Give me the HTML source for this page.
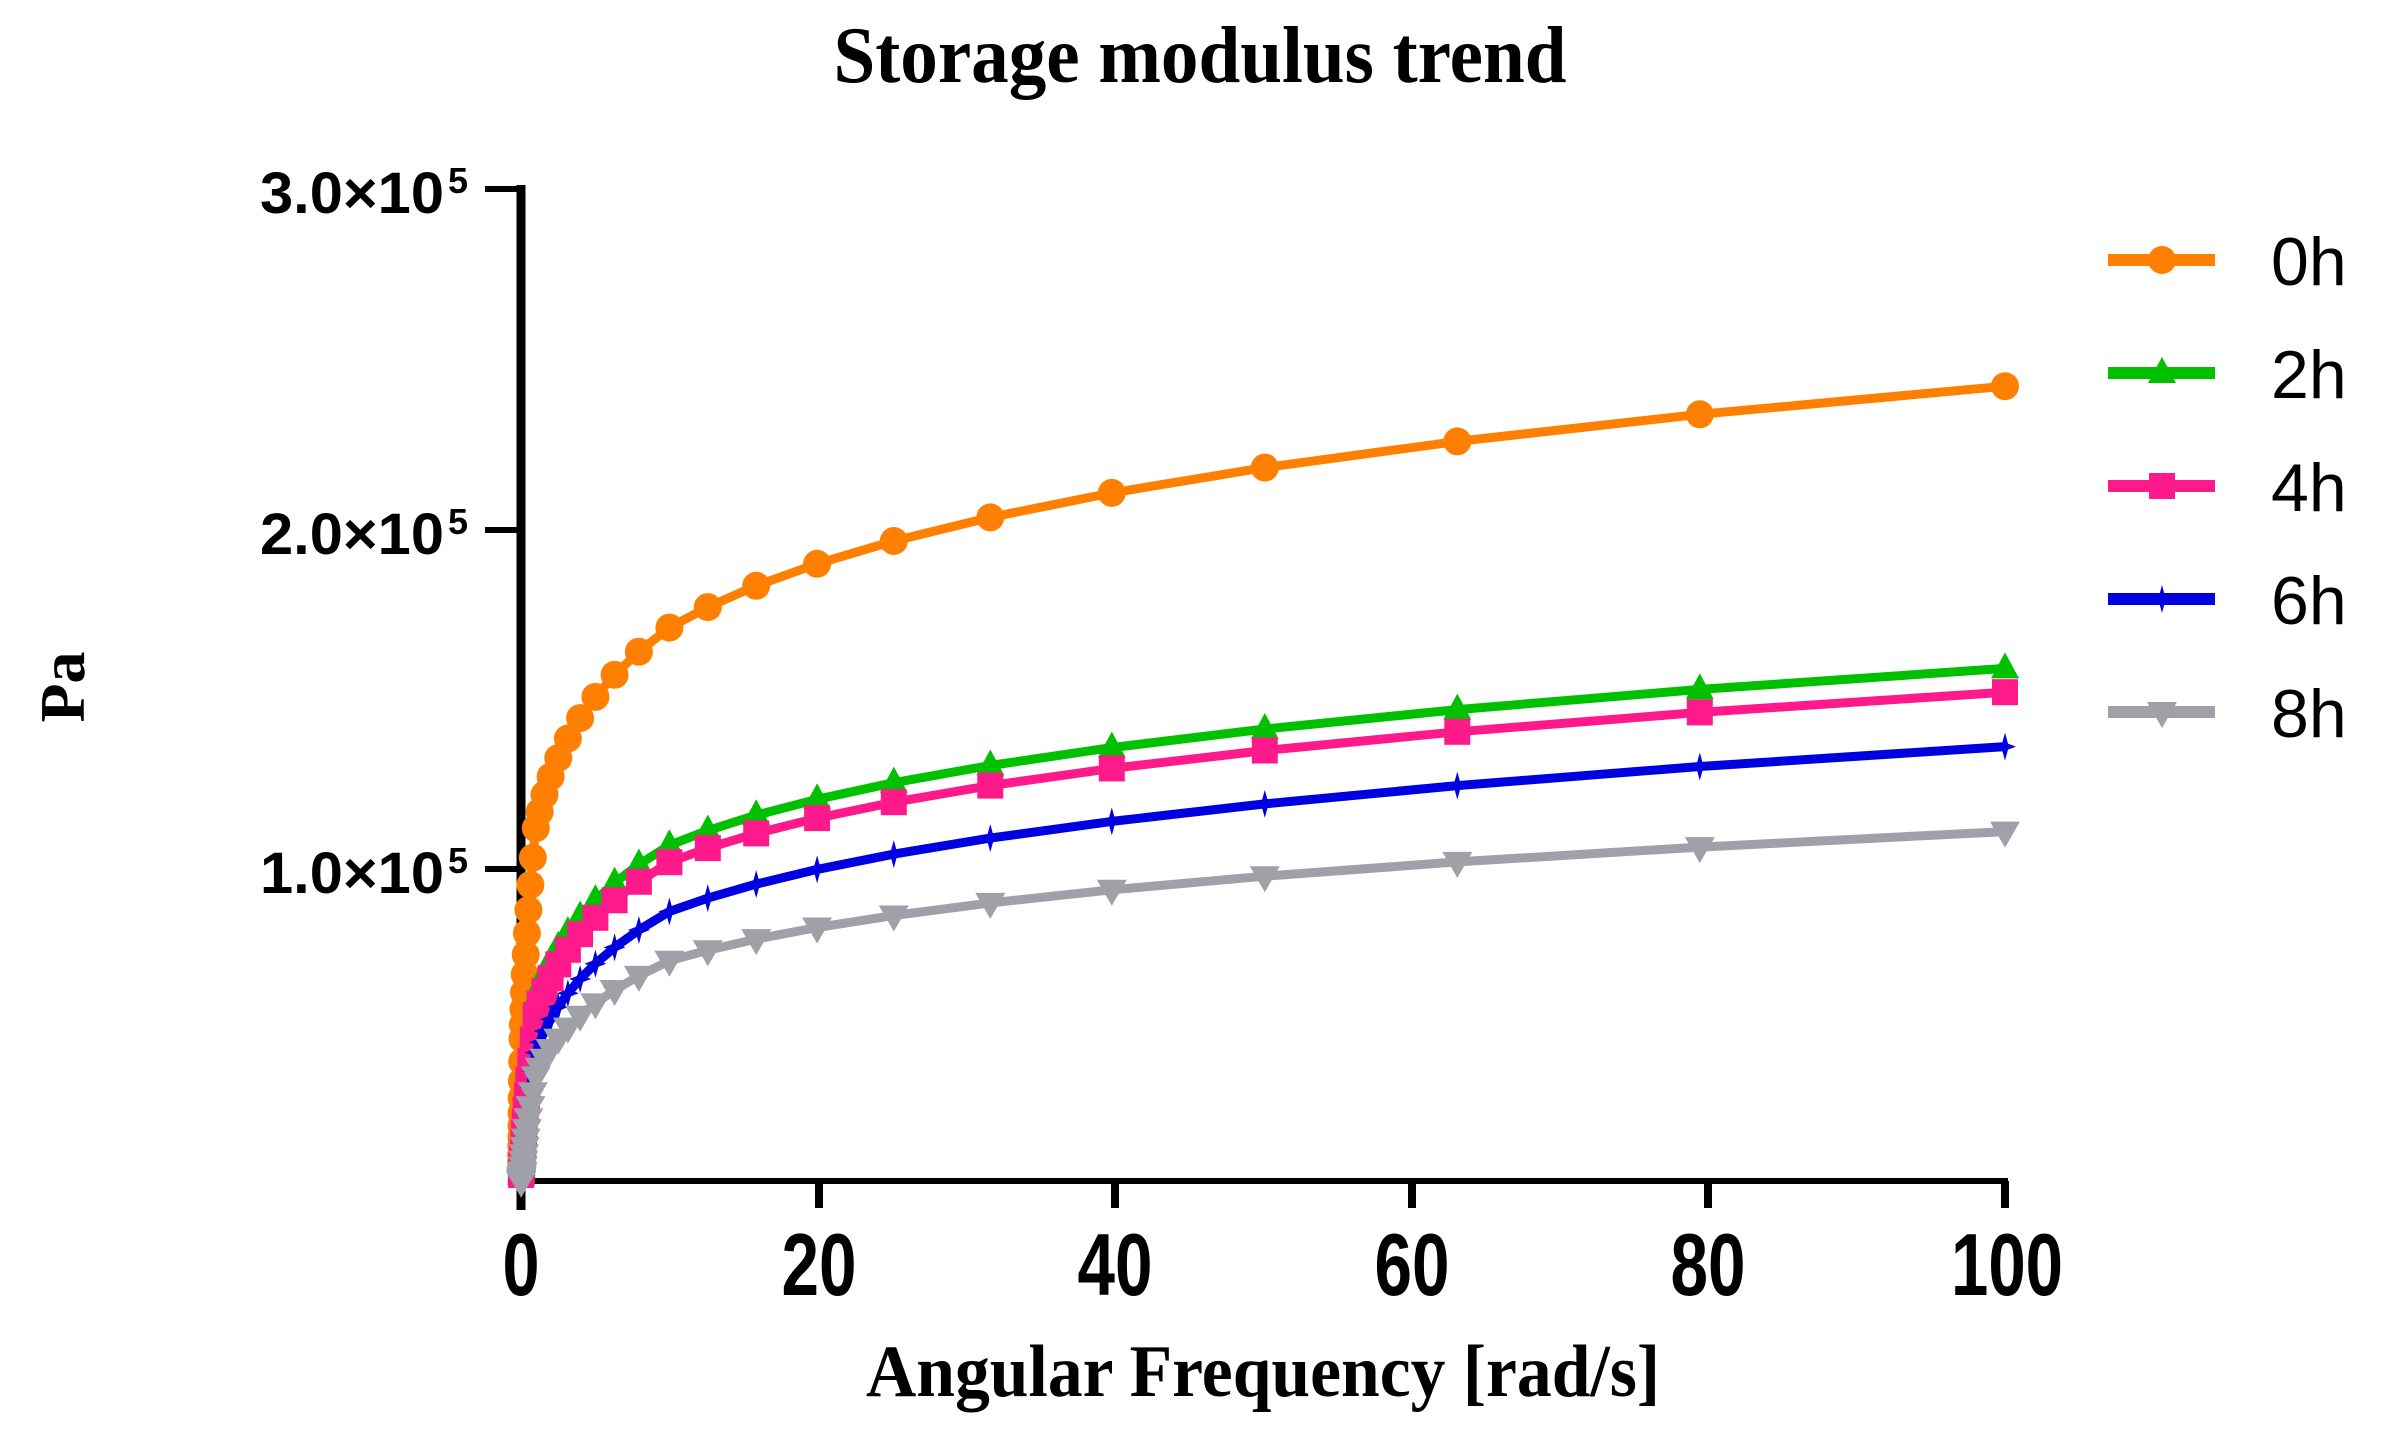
<!DOCTYPE html>
<html><head><meta charset="utf-8"><style>
html,body{margin:0;padding:0;background:#fff;}
svg{display:block;}
</style></head><body>
<svg id="s" width="2395" height="1446" viewBox="0 0 2395 1446" xmlns="http://www.w3.org/2000/svg">
<rect width="2395" height="1446" fill="#fff"/>
<text x="1200" y="82" text-anchor="middle" font-family="Liberation Serif, serif" font-weight="bold" font-size="80" textLength="733" lengthAdjust="spacingAndGlyphs">Storage modulus trend</text>
<g font-family="Liberation Sans, sans-serif" font-weight="bold" font-size="58">
<text x="260" y="213" textLength="184" lengthAdjust="spacingAndGlyphs">3.0×10</text><text x="448" y="193" font-size="36">5</text>
<text x="260" y="554" textLength="184" lengthAdjust="spacingAndGlyphs">2.0×10</text><text x="448" y="534" font-size="36">5</text>
<text x="260" y="893" textLength="184" lengthAdjust="spacingAndGlyphs">1.0×10</text><text x="448" y="873" font-size="36">5</text>
</g>
<text transform="translate(84,687) rotate(-90)" text-anchor="middle" font-family="Liberation Serif, serif" font-weight="bold" font-size="64">Pa</text>
<g stroke="#000" fill="none">
<line x1="521" y1="185" x2="521" y2="1210" stroke-width="9"/>
<line x1="517" y1="1181" x2="2008" y2="1181" stroke-width="6"/>
<line x1="485" y1="189" x2="521" y2="189" stroke-width="6"/>
<line x1="485" y1="530" x2="521" y2="530" stroke-width="6"/>
<line x1="485" y1="869" x2="521" y2="869" stroke-width="6"/>
<g stroke-width="8">
<line x1="819" y1="1181" x2="819" y2="1208"/><line x1="1115" y1="1181" x2="1115" y2="1208"/>
<line x1="1412" y1="1181" x2="1412" y2="1208"/><line x1="1708" y1="1181" x2="1708" y2="1208"/>
<line x1="2005" y1="1181" x2="2005" y2="1208"/>
</g></g>
<g font-family="Liberation Sans, sans-serif" font-weight="bold" font-size="88" text-anchor="middle" lengthAdjust="spacingAndGlyphs">
<text x="521" y="1295" textLength="37" lengthAdjust="spacingAndGlyphs">0</text>
<text x="819" y="1295" textLength="75" lengthAdjust="spacingAndGlyphs">20</text>
<text x="1115" y="1295" textLength="75" lengthAdjust="spacingAndGlyphs">40</text>
<text x="1412" y="1295" textLength="75" lengthAdjust="spacingAndGlyphs">60</text>
<text x="1708" y="1295" textLength="75" lengthAdjust="spacingAndGlyphs">80</text>
<text x="2007" y="1295" textLength="112" lengthAdjust="spacingAndGlyphs">100</text>
</g>
<text x="1263" y="1396" text-anchor="middle" font-family="Liberation Serif, serif" font-weight="bold" font-size="74" textLength="794" lengthAdjust="spacingAndGlyphs">Angular Frequency [rad/s]</text>
<g id="plot"></g>
<g font-family="Liberation Sans, sans-serif" font-size="68">
<text x="2271" y="285">0h</text><text x="2271" y="398">2h</text><text x="2271" y="511">4h</text>
<text x="2271" y="624">6h</text><text x="2271" y="737">8h</text>
</g>
</svg>
<script>
var X=function(x){return 521+x*14.84;};
var Y=function(v){return 1209-v*340;};
var ser=[
{c:"#ff8000",m:"c",k:[0.12,0.5,1.12,1.71,2.42]},
{c:"#00c000",m:"t",k:[0.1,0.16,0.62,1.07,1.59]},
{c:"#ff1a8c",m:"s",k:[0.1,0.15,0.57,1.02,1.52]},
{c:"#0000e0",m:"x",k:[0.09,0.13,0.46,0.875,1.36]},
{c:"#a0a0a8",m:"v",k:[0.08,0.11,0.39,0.73,1.11]}];
var ly=[260,373,486,599,712];
var g=document.getElementById("plot"),h="";
function mk(m,x,y,c){
 x=+x;y=+y;
 if(m=="c")return '<circle cx="'+x+'" cy="'+y+'" r="14" fill="'+c+'"/>';
 if(m=="s")return '<rect x="'+(x-13)+'" y="'+(y-13)+'" width="26" height="26" fill="'+c+'"/>';
 if(m=="t")return '<polygon points="'+x+','+(y-16)+' '+(x-14)+','+(y+10)+' '+(x+14)+','+(y+10)+'" fill="'+c+'"/>';
 if(m=="v")return '<polygon points="'+x+','+(y+16)+' '+(x-15)+','+(y-10)+' '+(x+15)+','+(y-10)+'" fill="'+c+'"/>';
 return '<polygon points="'+x+','+(y-14)+' '+(x+3)+','+(y-3)+' '+(x+11)+','+y+' '+(x+3)+','+(y+3)+' '+x+','+(y+14)+' '+(x-3)+','+(y+3)+' '+(x-11)+','+y+' '+(x-3)+','+(y-3)+'" fill="'+c+'"/>';
}
ser.forEach(function(s,i){
 var pts=[];
 for(var k=-20;k<=20;k++){
  var lx=k/10, x=Math.pow(10,lx);
  var t=(lx+2), j=Math.min(3,Math.floor(t)), f=t-j;
  var lv=Math.log(s.k[j])*(1-f)+Math.log(s.k[j+1])*f;
  pts.push([X(x),Y(Math.exp(lv))]);
 }
 h+='<polyline fill="none" stroke="'+s.c+'" stroke-width="9" stroke-linejoin="round" points="'+pts.map(function(p){return p[0].toFixed(1)+','+p[1].toFixed(1);}).join(' ')+'"/>';
 pts.forEach(function(p){h+=mk(s.m,p[0].toFixed(1),p[1].toFixed(1),s.c);});
 h+='<line x1="2108" y1="'+ly[i]+'" x2="2215" y2="'+ly[i]+'" stroke="'+s.c+'" stroke-width="12"/>'+mk(s.m,2162,ly[i],s.c);
});
g.innerHTML=h;
</script>
</body></html>
